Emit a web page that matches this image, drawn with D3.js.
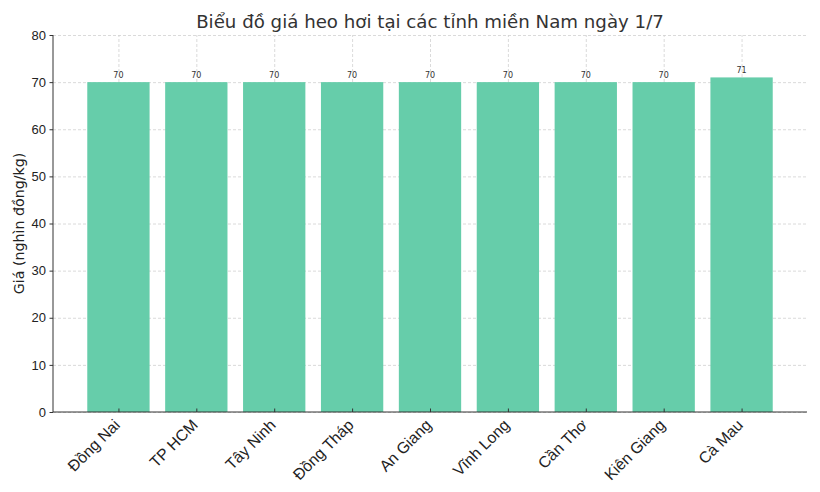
<!DOCTYPE html>
<html>
<head>
<meta charset="utf-8">
<script src="https://cdn.jsdelivr.net/npm/d3@7"></script>
<style>
  body { margin: 0; background: #fff; }
  svg { font-family: "DejaVu Sans", sans-serif; }
  .grid line { stroke: #d0d0d0; stroke-dasharray: 3,2; stroke-width: 0.8; }
  .grid path { display: none; }
</style>
</head>
<body>
<svg id="chart"></svg>
<script>
var provinces = ["Đồng Nai", "TP HCM", "Tây Ninh", "Đồng Tháp", "An Giang", "Vĩnh Long", "Cần Thơ", "Kiên Giang", "Cà Mau"];
var prices = [70, 70, 70, 70, 70, 70, 70, 70, 71];
var yTicks = [0, 10, 20, 30, 40, 50, 60, 70, 80];

var margin = {top: 35, right: 13, bottom: 80, left: 53},
    width = 820 - margin.left - margin.right,
    height = 492 - margin.top - margin.bottom;

var svg = d3.select("#chart")
    .attr("width", 820)
    .attr("height", 492);

var g = svg.append("g")
    .attr("transform", "translate(" + margin.left + "," + margin.top + ")");

// matplotlib-like continuous x: bars at 0..n-1, width 0.8, 5% margins
var n = provinces.length;
var pad = (n - 1 + 0.8) * 0.05 + 0.4;
var x = d3.scaleLinear()
    .domain([-pad, n - 1 + pad])
    .range([0, width]);

var y = d3.scaleLinear()
    .domain([0, 80])
    .range([height, 0]);

// grid
g.append("g")
    .attr("class", "grid")
    .call(d3.axisLeft(y).tickValues(yTicks).tickSize(-width).tickFormat(""));
g.append("g")
    .attr("class", "grid")
    .attr("transform", "translate(0," + height + ")")
    .call(d3.axisBottom(x).tickValues(d3.range(n)).tickSize(height).tickFormat(""))
    .selectAll("line").attr("y2", -height);

// bars
g.selectAll("rect.bar")
    .data(prices)
    .enter().append("rect")
    .attr("class", "bar")
    .attr("x", function(d, i) { return x(i - 0.4); })
    .attr("width", x(0.8) - x(0))
    .attr("y", function(d) { return y(d); })
    .attr("height", function(d) { return height - y(d); })
    .attr("fill", "#66cdaa");

// value labels
g.selectAll("text.val")
    .data(prices)
    .enter().append("text")
    .attr("class", "val")
    .attr("x", function(d, i) { return x(i); })
    .attr("y", function(d) { return y(d) - 4; })
    .attr("text-anchor", "middle")
    .attr("font-size", 8)
    .attr("fill", "#333")
    .text(function(d) { return d; });

// y axis
var yAxis = g.append("g")
    .call(d3.axisLeft(y).tickValues(yTicks).tickSize(3.5).tickPadding(3.5));
yAxis.select(".domain").attr("stroke", "#333").attr("d", "M0," + height + "V0");
yAxis.selectAll("line").attr("stroke", "#333");
yAxis.selectAll("text").attr("font-size", 13).attr("fill", "#222");

// x axis
var xAxis = g.append("g")
    .attr("transform", "translate(0," + height + ")")
    .call(d3.axisBottom(x).tickValues(d3.range(n)).tickSize(0).tickFormat(function(i) { return provinces[i]; }));
xAxis.select(".domain").attr("stroke", "#333").attr("d", "M0,0H" + width);
xAxis.selectAll(".tick").append("line")
    .attr("y2", -3.5).attr("stroke", "#333");
xAxis.selectAll("text")
    .attr("font-size", 15.8)
    .attr("fill", "#222")
    .attr("text-anchor", "end")
    .attr("dy", null)
    .attr("y", 0)
    .attr("transform", "translate(2,14) rotate(-45)");

// titles
svg.append("text")
    .attr("x", margin.left + width / 2)
    .attr("y", 28)
    .attr("text-anchor", "middle")
    .attr("font-size", 18.2)
    .attr("fill", "#333")
    .text("Biểu đồ giá heo hơi tại các tỉnh miền Nam ngày 1/7");

svg.append("text")
    .attr("transform", "translate(24," + (margin.top + height / 2) + ") rotate(-90)")
    .attr("text-anchor", "middle")
    .attr("font-size", 14.2)
    .attr("fill", "#222")
    .text("Giá (nghìn đồng/kg)");
</script>
</body>
</html>
